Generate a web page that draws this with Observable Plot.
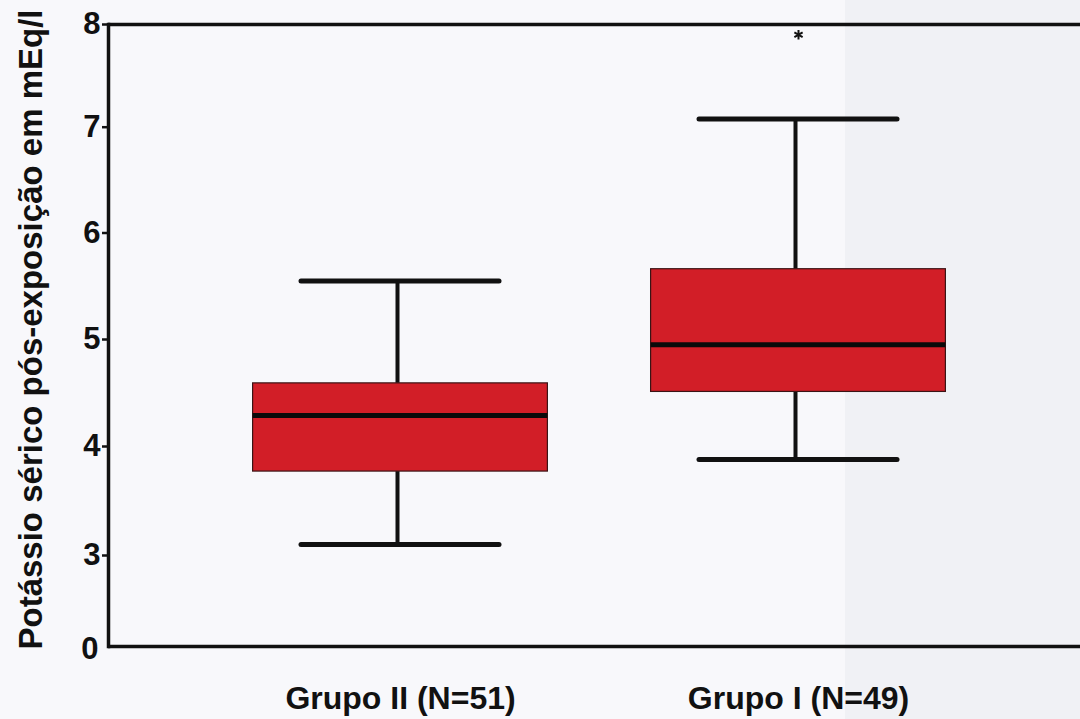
<!DOCTYPE html>
<html>
<head>
<meta charset="utf-8">
<script src="https://cdn.jsdelivr.net/npm/d3@7"></script>
<script src="https://cdn.jsdelivr.net/npm/@observablehq/plot@0.6"></script>
<style>
  html, body { margin: 0; padding: 0; }
  body { width: 1080px; height: 719px; overflow: hidden;
    background: linear-gradient(to right, #f8f8fb 0, #f8f8fb 845px, #f0f1f5 845px, #f0f1f5 100%); }
  #chart svg { display: block; background: transparent; }
</style>
</head>
<body>
<div id="chart"></div>
<script>
// ---- data ----
const groups = ["Grupo II (N=51)", "Grupo I (N=49)"];
const whiskerLow  = [3.10, 3.88];
const quartile1   = [3.77, 4.51];
const medians     = [4.29, 4.95];
const quartile3   = [4.59, 5.66];
const whiskerHigh = [5.55, 7.08];
const outlierGroups = ["Grupo I (N=49)"];
const outlierValues = [7.90];
const yTicks = [3, 4, 5, 6, 7, 8];
const yTickZero = [0];
const yLabel = "Potássio sérico pós-exposição em mEq/l";

const rows = groups.map((g, i) => ({
  group: g, low: whiskerLow[i], q1: quartile1[i], med: medians[i], q3: quartile3[i], high: whiskerHigh[i]
}));
const outliers = outlierGroups.map((g, i) => ({group: g, value: outlierValues[i]}));

const font = "'Liberation Sans', Arial, Helvetica, sans-serif";
const fmt = d => String(d);

const chart = Plot.plot({
  width: 1080,
  height: 719,
  marginLeft: 108,
  marginRight: 0,
  marginTop: 24,
  marginBottom: 73,
  style: {fontFamily: font, color: "#111", background: "transparent"},
  x: {type: "band", domain: groups, range: [200.4, 996.8], padding: 0},
  y: {type: "linear", domain: [0, 3, 4, 5, 6, 7, 8], range: [646, 555, 446, 339, 232.5, 126.7, 24]},
  marks: [
    // whiskers
    Plot.ruleX(rows, {x: "group", y1: "low", y2: "q1", stroke: "#111", strokeWidth: 4, dx: -3}),
    Plot.ruleX(rows, {x: "group", y1: "q3", y2: "high", stroke: "#111", strokeWidth: 4, dx: -3}),
    // caps
    Plot.tickY(rows, {x: "group", y: "low", stroke: "#111", strokeWidth: 5, strokeLinecap: "round", insetLeft: 100, insetRight: 100}),
    Plot.tickY(rows, {x: "group", y: "high", stroke: "#111", strokeWidth: 5, strokeLinecap: "round", insetLeft: 100, insetRight: 100}),
    // boxes
    Plot.barY(rows, {x: "group", y1: "q1", y2: "q3", fill: "#d21e27", stroke: "#3b1415", strokeWidth: 1.2, insetLeft: 51.6, insetRight: 51.6}),
    // medians
    Plot.tickY(rows, {x: "group", y: "med", stroke: "#0a0a0a", strokeWidth: 5, insetLeft: 51.6, insetRight: 51.6}),
    // outlier
    Plot.dot(outliers, {x: "group", y: "value", symbol: "asterisk", r: 4.5, stroke: "#111", strokeWidth: 2}),
    // frame
    Plot.frame({anchor: "left", stroke: "#111", strokeWidth: 3.5}),
    Plot.ruleY([0, 8], {stroke: "#111", strokeWidth: 3.5}),
    // axes
    Plot.axisY(yTicks, {tickSize: 6, tickPadding: 2, fontSize: 31, fontWeight: "bold", label: null, strokeWidth: 2.5, tickFormat: fmt}),
    Plot.axisY(yTickZero, {tickSize: 0, tickPadding: 10, fontSize: 31, fontWeight: "bold", label: null, tickFormat: fmt, dy: 3}),
    Plot.axisX({tickSize: 0, tickPadding: 40, fontSize: 32, fontWeight: "bold", label: null}),
    // y label
    Plot.text([yLabel], {frameAnchor: "left", dx: -77, dy: -6, rotate: -90, fontSize: 33, fontWeight: "bold", textAnchor: "middle", lineAnchor: "middle", fill: "#111"})
  ]
});
document.getElementById("chart").appendChild(chart);
</script>
</body>
</html>
